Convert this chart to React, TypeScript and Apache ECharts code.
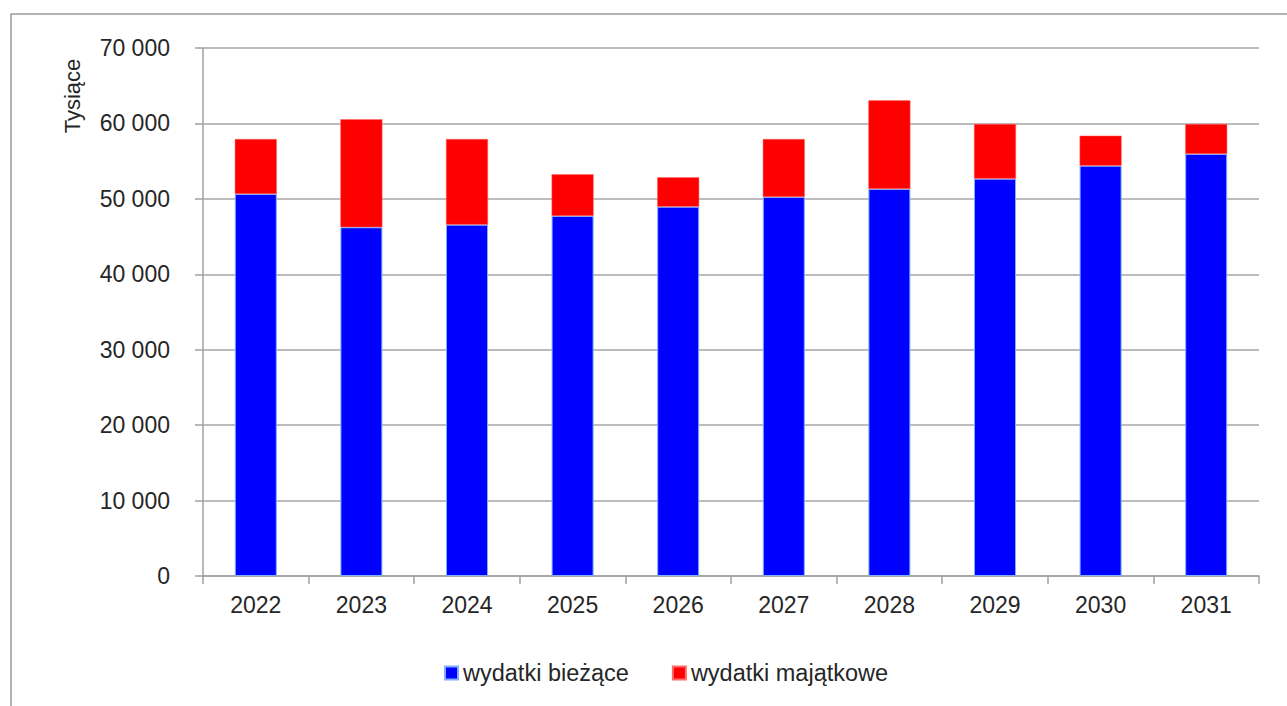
import React, { useEffect, useRef } from "react";
import * as echarts from "echarts";

const categories = ["2022", "2023", "2024", "2025", "2026", "2027", "2028", "2029", "2030", "2031"];
const biezace = [50640, 46230, 46580, 47730, 48960, 50250, 51310, 52680, 54400, 55950];
const majatkowe = [7290, 14320, 11350, 5520, 3890, 7680, 11750, 7240, 3980, 3970];
const seriesNames = ["wydatki bieżące", "wydatki majątkowe"];
const yAxisTitle = "Tysiące";

const fmt = (v: number) => String(v).replace(/\B(?=(\d{3})+(?!\d))/g, " ");

export default function App() {
  const ref = useRef<HTMLDivElement>(null);
  useEffect(() => {
    if (!ref.current) return;
    const chart = echarts.init(ref.current, null, { renderer: "svg" });
    const font = "'Liberation Sans', Arial, sans-serif";
    chart.setOption({
      animation: false,
      backgroundColor: "#ffffff",
      textStyle: { fontFamily: font },
      grid: { left: 203, right: 28, top: 48, bottom: 130, containLabel: false },
      graphic: [
        {
          type: "rect",
          shape: { x: 11, y: 14, width: 1300, height: 800 },
          style: { fill: "none", stroke: "#9a9a9a", lineWidth: 1.5 },
          silent: true,
        },
        {
          type: "text",
          x: 72,
          y: 96,
          rotation: Math.PI / 2,
          style: {
            text: yAxisTitle,
            fontSize: 22,
            fontFamily: font,
            fill: "#262626",
            align: "center",
            verticalAlign: "middle",
          },
        },
      ],
      legend: {
        left: 439,
        top: 656,
        icon: "rect",
        itemWidth: 13,
        itemHeight: 13,
        itemGap: 43,
        textStyle: { fontSize: 23.5, color: "#262626", fontFamily: font },
        data: seriesNames,
      },
      xAxis: {
        type: "category",
        data: categories,
        boundaryGap: true,
        axisLine: { lineStyle: { color: "#a0a0a0", width: 1.5 } },
        axisTick: { show: true, length: 8, alignWithLabel: false, lineStyle: { color: "#a0a0a0", width: 1.5 } },
        axisLabel: { fontSize: 23, color: "#262626", margin: 17, fontFamily: font },
      },
      yAxis: {
        type: "value",
        min: 0,
        max: 70000,
        interval: 10000,
        axisLine: { show: true, lineStyle: { color: "#a0a0a0", width: 1.5 } },
        axisTick: { show: true, length: 8, lineStyle: { color: "#a0a0a0", width: 1.5 } },
        splitLine: { lineStyle: { color: "#a6a6a6", width: 1.5 } },
        axisLabel: { fontSize: 23, color: "#262626", margin: 33, formatter: fmt, fontFamily: font },
      },
      series: [
        {
          name: seriesNames[0],
          type: "bar",
          stack: "total",
          data: biezace,
          barWidth: 42,
          itemStyle: { color: "#0000ff", borderColor: "#7fb0ff", borderWidth: 1 },
        },
        {
          name: seriesNames[1],
          type: "bar",
          stack: "total",
          data: majatkowe,
          barWidth: 42,
          itemStyle: { color: "#ff0000", borderColor: "#ff6a6a", borderWidth: 0.5 },
        },
      ],
    });
    return () => chart.dispose();
  }, []);
  return (
    <div
      ref={ref}
      style={{ position: "fixed", left: 0, top: 0, width: 1287, height: 706 }}
    />
  );
}
